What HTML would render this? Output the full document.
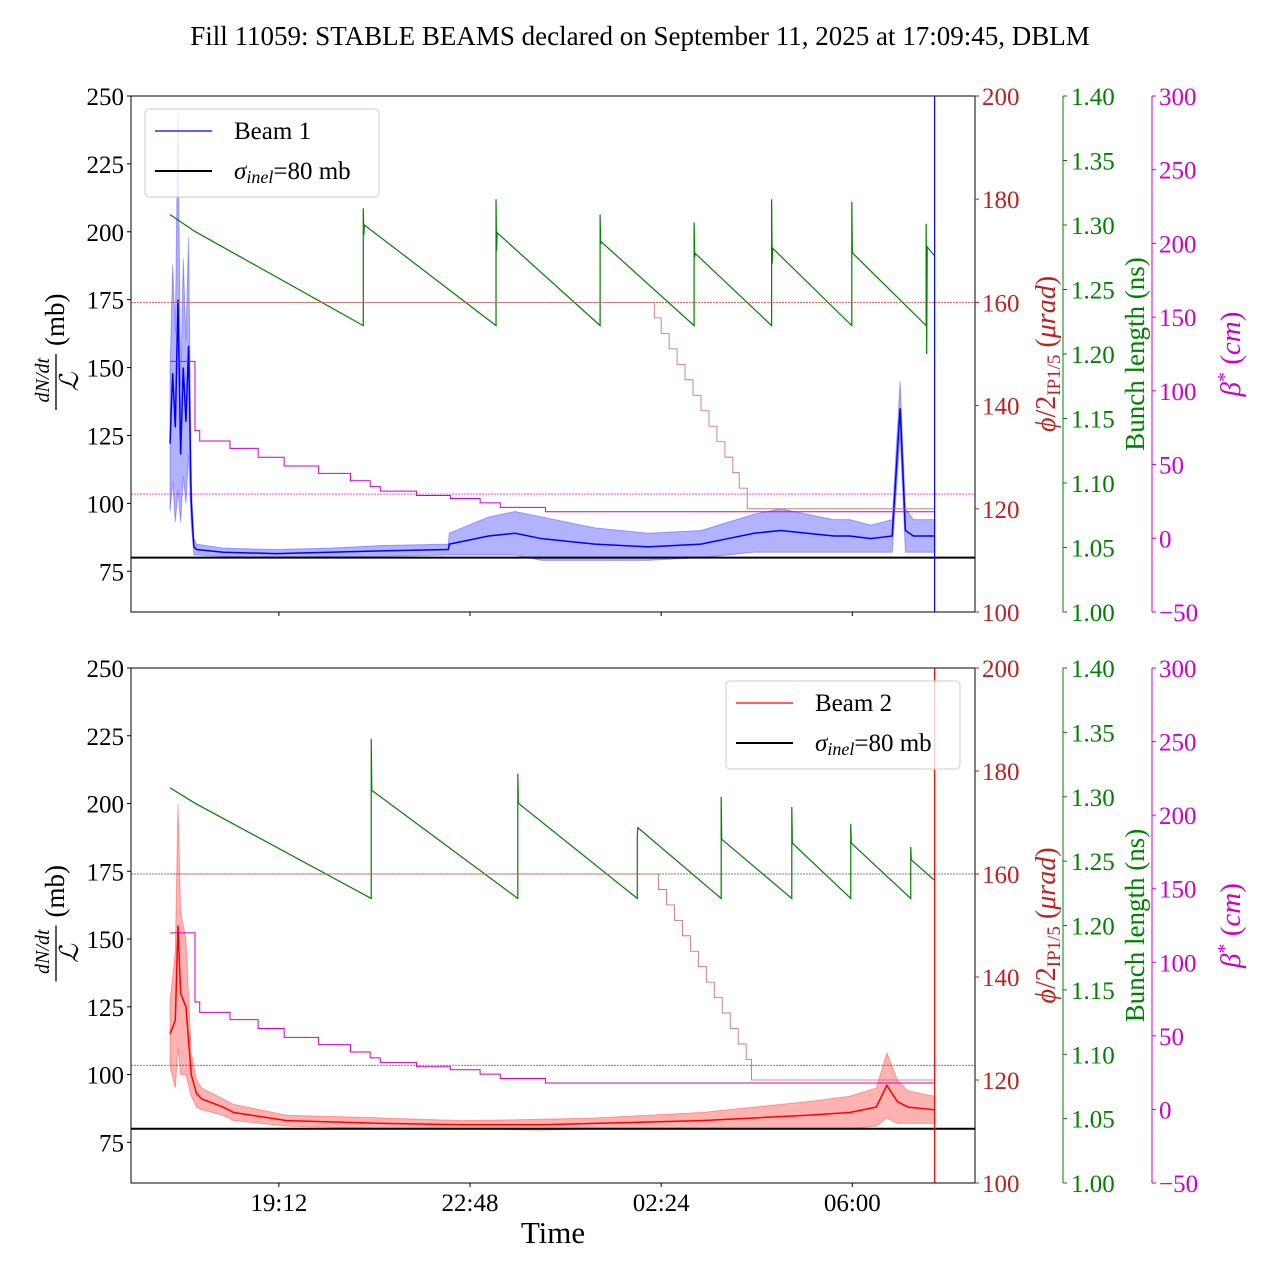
<!DOCTYPE html>
<html><head><meta charset="utf-8"><style>
body{margin:0;background:#fff}
svg text{font-family:"Liberation Serif",serif}
</style></head><body>
<svg id="c" width="1280" height="1280" xmlns="http://www.w3.org/2000/svg">
<text x="640" y="45" font-size="27" text-anchor="middle">Fill 11059: STABLE BEAMS declared on September 11, 2025 at 17:09:45, DBLM</text>
</svg>
<script>
// time in hours since 17:09
const xTickLabels=["19:12","22:48","02:24","06:00"];
const xTickHours=[2.05,5.65,9.25,12.85];
const leftTicks=[75,100,125,150,175,200,225,250];
const redTicks=[100,120,140,160,180,200];
const greenTicks=[1.00,1.05,1.10,1.15,1.20,1.25,1.30,1.35,1.40];
const magTicks=[-50,0,50,100,150,200,250,300];
// Beam 1
const b1T=[0,0.05,0.1,0.15,0.2,0.25,0.3,0.35,0.4,0.45,0.5,1,2,3,4,5.24,5.26,6,6.5,7,8,9,10,10.5,11,11.5,12,12.5,12.8,13.2,13.6,13.75,13.85,14.0,14.4];
const b1Mean=[122,148,128,175,118,150,130,158,100,84,83,82,81.5,82,82.5,83,85,88,89,87,85,84,85,87,89,90,89,88,88,87,88,135,90,88,88];
const b1Band=[25,40,35,70,25,40,30,40,8,3,2,1.5,1.5,1.5,2,2,4,7,8,8,6,5,5,6,7,8,7,6,6,5,6,10,8,6,6];
// Beam 2
const b2T=[0,0.1,0.15,0.2,0.3,0.4,0.5,0.6,1.0,1.2,2.2,4,5.5,7,8,9,10,11,12,12.8,13.3,13.5,13.7,13.9,14.4];
const b2Mean=[115,120,155,130,125,100,93,91,88,86,83,82,81.5,81.5,82,82.5,83,84,85,86,88,96,90,88,87];
const b2Band=[12,25,45,30,25,8,5,4,3,3,2,2,1.5,2,2,2.5,3,4,5,6,7,12,8,6,5];
// Bunch length
const g1T=[0,0.47,3.64,3.64,3.64,3.65,3.66,6.14,6.14,6.15,6.16,8.1,8.1,8.11,8.12,9.87,9.87,9.88,9.89,11.33,11.33,11.34,11.35,12.84,12.84,12.85,12.86,14.24,14.24,14.25,14.26,14.4];
const g1V=[1.308,1.295,1.222,1.250,1.313,1.292,1.300,1.222,1.32,1.28,1.294,1.222,1.308,1.285,1.287,1.222,1.302,1.275,1.278,1.222,1.32,1.27,1.282,1.222,1.318,1.28,1.278,1.222,1.301,1.2,1.283,1.276];
const g2T=[0,0.47,3.79,3.79,3.80,6.55,6.55,6.56,8.8,8.8,8.81,10.38,10.38,10.39,11.71,11.71,11.72,12.82,12.82,12.83,13.95,13.95,13.96,14.4];
const g2V=[1.307,1.295,1.221,1.345,1.305,1.221,1.318,1.295,1.221,1.27,1.276,1.221,1.30,1.267,1.221,1.292,1.264,1.221,1.279,1.264,1.221,1.261,1.251,1.235];
// Crossing angle (urad)
const xa1T=[0,9.0,9.12,9.25,9.4,9.55,9.7,9.85,10.0,10.15,10.3,10.45,10.6,10.72,10.87,14.4];
const xa1V=[160,160,157,154,151,148,145,142,139,136,133,130,127,124,120,120];
const xa2T=[0,9.07,9.2,9.35,9.5,9.65,9.8,9.95,10.1,10.25,10.4,10.55,10.7,10.85,10.95,14.4];
const xa2V=[160,160,157,154,151,148,145,142,139,136,133,130,127,124,120,120];
// beta* (cm)
const bsT=[0,0.42,0.47,0.56,0.56,1.13,1.66,2.15,2.8,3.4,3.77,3.96,4.64,5.28,5.84,6.22,7.07,14.4];
const bsV=[120,120,73,73,66,61,55,49,44,39,35,32,29,27,24,21,18,18];

const svg=document.getElementById('c');
const NS='http://www.w3.org/2000/svg';
function el(t,a,p){const e=document.createElementNS(NS,t);for(const k in a)e.setAttribute(k,a[k]);(p||svg).appendChild(e);return e;}
const X=h=>170+53.1*h;
function stepPts(T,V,yf){let p=[];T.forEach((t,i)=>{if(i>0)p.push(X(t)+','+yf(V[i-1]));p.push(X(t)+','+yf(V[i]));});return p.join(' ');}
function panel(top,bot,T,M,B,col,gT,gV,xaT,xaV,legendLeft,label,showX){
  const g=el('g',{});
  
  
  const H=bot-top;
  const yL=v=>bot-(v-60)/190*H, yR=v=>bot-(v-100)/100*H, yG=v=>bot-(v-1)/0.4*H, yM=v=>bot-(v+50)/350*H;
  const clip='clip'+top;
  const cp=el('clipPath',{id:clip},g);el('rect',{x:131,y:top,width:844,height:H},cp);
  const d=el('g',{'clip-path':`url(#${clip})`},g);
  el('line',{x1:131,x2:975,y1:yR(160),y2:yR(160),stroke:showX?'#555':'#d33','stroke-width':0.8,'stroke-dasharray':'2,1'},d);
  el('line',{x1:131,x2:975,y1:yM(30),y2:yM(30),stroke:showX?'#555':'#f3f','stroke-width':0.8,'stroke-dasharray':'2,1'},d);
  let up=T.map((t,i)=>X(t)+','+yL(M[i]+B[i])).join(' ');
  let dn=T.map((t,i)=>X(t)+','+yL(M[i]-B[i])).reverse().join(' ');
  const band=el('polygon',{points:up+' '+dn,fill:col,'fill-opacity':0.3,stroke:col,'stroke-opacity':0.3,'stroke-width':1},d);
  
  
  const ln=el('polyline',{points:T.map((t,i)=>X(t)+','+yL(M[i])).join(' '),fill:'none',stroke:col,'stroke-width':1.5},d);
  
  
  const gl=el('polyline',{points:gT.map((t,i)=>X(t)+','+yG(gV[i])).join(' '),fill:'none',stroke:'green','stroke-width':1.2},d);
  
  
  const xl=el('polyline',{points:stepPts(xaT,xaV,yR),fill:'none',stroke:'#c66','stroke-width':0.8},d);
  
  
  const bl=el('polyline',{points:stepPts(bsT,bsV,yM),fill:'none',stroke:'#c0c','stroke-width':1},d);
  
  
  el('line',{x1:131,x2:975,y1:yL(80),y2:yL(80),stroke:'#000','stroke-width':2},d);
  el('line',{x1:X(14.4),x2:X(14.4),y1:top,y2:bot,stroke:col,'stroke-width':1.2},d);
  el('rect',{x:131,y:top,width:844,height:H,fill:'none',stroke:'#000','stroke-width':1},g);
  leftTicks.forEach(v=>{const y=yL(v);el('line',{x1:127,x2:131,y1:y,y2:y,stroke:'#000'},g);const t=el('text',{x:124,y:y+9,'font-size':25,'text-anchor':'end'},g);t.textContent=v;});
  redTicks.forEach(v=>{const y=yR(v);el('line',{x1:975,x2:979,y1:y,y2:y,stroke:'#b22'},g);const t=el('text',{x:982,y:y+9,'font-size':25,fill:'#b22'},g);t.textContent=v;});
  el('line',{x1:1063,x2:1063,y1:top,y2:bot,stroke:'green'},g);
  greenTicks.forEach(v=>{const y=yG(v);el('line',{x1:1063,x2:1067,y1:y,y2:y,stroke:'green'},g);const t=el('text',{x:1071,y:y+9,'font-size':25,fill:'green'},g);t.textContent=v.toFixed(2);});
  el('line',{x1:1152,x2:1152,y1:top,y2:bot,stroke:'#c0c'},g);
  magTicks.forEach(v=>{const y=yM(v);el('line',{x1:1152,x2:1156,y1:y,y2:y,stroke:'#c0c'},g);const t=el('text',{x:1159,y:y+9,'font-size':25,fill:'#c0c'},g);t.textContent=v<0?'\u2212'+(-v):v;});
  xTickHours.forEach((h,i)=>{el('line',{x1:X(h),x2:X(h),y1:bot,y2:bot+4,stroke:'#000'},g);if(showX){const t=el('text',{x:X(h),y:bot+28,'font-size':25,'text-anchor':'middle'},g);t.textContent=xTickLabels[i];}});
  const mid=(top+bot)/2;
  const yt=el('g',{transform:`translate(56,${mid}) rotate(-90)`},g);
  
  let t=el('text',{x:-4,y:-7,'font-size':20,'font-style':'italic','text-anchor':'end'},yt);t.textContent='dN/dt';
  el('line',{x1:-56,x2:0,y1:0,y2:0,stroke:'#000','stroke-width':1.3},yt);
  t=el('text',{x:-28,y:22,'font-size':26,'font-style':'italic','text-anchor':'middle'},yt);t.textContent='\u2112';
  t=el('text',{x:8,y:8,'font-size':27},yt);t.textContent='(mb)';
  t=el('text',{transform:`translate(1055,${mid}) rotate(-90)`,'font-size':28,fill:'#b22','text-anchor':'middle'},g);t.innerHTML='<tspan font-style="italic">\u03d5</tspan>/2<tspan font-size="19" dy="5">IP1/5</tspan><tspan dy="-5"> (</tspan><tspan font-style="italic">\u03bcrad</tspan>)';
  t=el('text',{transform:`translate(1144,${mid}) rotate(-90)`,'font-size':27,fill:'green','text-anchor':'middle','font-family':'Liberation Sans, sans-serif'},g);t.textContent='Bunch length (ns)';
  t=el('text',{transform:`translate(1240,${mid}) rotate(-90)`,'font-size':29,fill:'#c0c','text-anchor':'middle'},g);t.innerHTML='<tspan font-style="italic">\u03b2</tspan><tspan dy="-9" font-size="20">*</tspan><tspan dy="9"> (</tspan><tspan font-style="italic">cm</tspan>)';
  const lg=el('g',{},g);
  const lx=legendLeft, ly=top+13;
  el('rect',{x:lx,y:ly,width:234,height:88,rx:4,fill:'#fff','fill-opacity':0.8,stroke:'#ccc'},lg);
  el('line',{x1:lx+10,x2:lx+67,y1:ly+22,y2:ly+22,stroke:col,'stroke-width':1.2},lg);
  t=el('text',{x:lx+89,y:ly+30,'font-size':25},lg);t.textContent=label;
  el('line',{x1:lx+10,x2:lx+67,y1:ly+62,y2:ly+62,stroke:'#000','stroke-width':2},lg);
  t=el('text',{x:lx+89,y:ly+70,'font-size':25},lg);t.innerHTML='<tspan font-style="italic">\u03c3</tspan><tspan font-style="italic" font-size="18" dy="4">inel</tspan><tspan dy="-4">=80 mb</tspan>';
}
panel(96,612,b1T,b1Mean,b1Band,'#0000ff',g1T,g1V,xa1T,xa1V,145,'Beam 1',false);
panel(668,1183,b2T,b2Mean,b2Band,'#ff0000',g2T,g2V,xa2T,xa2V,726,'Beam 2',true);
const xt=el('text',{x:553,y:1243,'font-size':31,'text-anchor':'middle'});xt.textContent='Time';


</script>
</body></html>
